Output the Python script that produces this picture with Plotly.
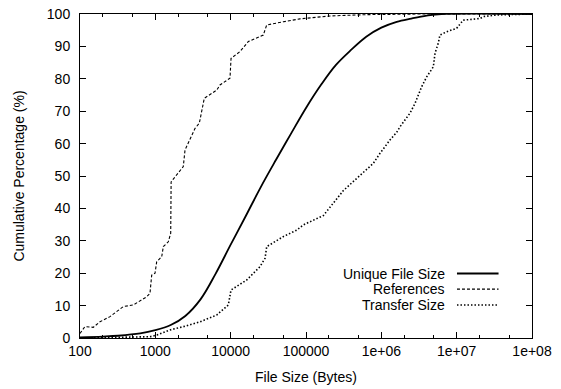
import plotly.graph_objects as go

# ---- data ----
unique_x = [100, 200, 320, 630, 1000, 1600, 2500, 4000, 6300, 10000, 16000, 25000, 40000,
            63000, 100000, 160000, 250000, 400000, 630000, 1000000, 1600000, 2500000,
            4000000, 6300000, 100000000]
unique_y = [0.2, 0.45, 0.7, 1.4, 2.4, 4.0, 6.8, 12.0, 19.8, 28.8, 37.8, 46.5, 55,
            63, 71, 78.3, 84.3, 89, 93, 95.8, 97.6, 98.6, 99.5, 100, 100]

ref_x = [100, 116, 150, 184, 250, 376, 510, 767, 849, 895, 991, 1042, 1216, 1276, 1486,
         1600, 1620, 2350, 2477, 2884, 3365, 3837, 4130, 4467, 6531, 7211, 9795, 10116,
         13300, 17140, 27100, 30060, 50000, 83200, 209000, 630000, 3200000, 100000000]
ref_y = [1.4, 3.5, 3.3, 5.0, 6.6, 9.7, 10.2, 12.7, 13.8, 19.4, 20.0, 23.5, 25.1, 28.2, 29.7,
         32.3, 48.2, 52.9, 58.0, 61.6, 64.7, 66.3, 70.4, 74.0, 76.5, 78.1, 80.2, 86.3,
         88.4, 91.5, 93.5, 96.6, 97.6, 98.5, 99.4, 99.8, 100, 100]

xfer_x = [100, 316, 560, 850, 1050, 1570, 2350, 3920, 6530, 9310, 10100, 16300, 24500,
          28600, 30100, 50000, 75300, 92000, 170000, 313000, 783000, 960000, 1300000,
          1600000, 1770000, 2400000, 2800000, 3440000, 4000000, 4430000, 4900000, 5160000,
          5700000, 6000000, 7360000, 10000000, 12200000, 20400000, 22600000, 34000000,
          85000000, 100000000]
xfer_y = [0, 0.1, 0.2, 0.4, 0.9, 2.5, 3.5, 5.0, 7.1, 10.2, 14.8, 17.9, 22.0,
          24.6, 28.2, 31.3, 33.3, 34.9, 37.8, 45.5, 53.9, 57.0, 61.1,
          63.5, 65.2, 69.4, 72.4, 77.6, 80.6, 82.2, 83.7, 87.9,
          91.0, 93.5, 94.5, 95.6, 98.1, 98.6, 99.2, 99.7,
          99.9, 100]

x_tickvals = [100, 1000, 10000, 100000, 1000000, 10000000, 100000000]
x_ticktext = ["100", "1000", "10000", "100000", "1e+06", "1e+07", "1e+08"]
y_tickvals = [0, 10, 20, 30, 40, 50, 60, 70, 80, 90, 100]

series_names = ["Unique File Size", "References", "Transfer Size"]

FONT = "Liberation Sans, Arial, Helvetica, sans-serif"
FS = 14

dash_styles = ["solid", "3px,2px", "1.5px,2px"]
widths = [1.8, 1.1, 1.6]

fig = go.Figure()
fig.add_trace(go.Scatter(x=unique_x, y=unique_y, mode="lines", name=series_names[0],
                         line=dict(color="black", width=widths[0], dash=dash_styles[0],
                                   shape="spline", smoothing=1.0)))
fig.add_trace(go.Scatter(x=ref_x, y=ref_y, mode="lines", name=series_names[1],
                         line=dict(color="black", width=widths[1], dash=dash_styles[1])))
fig.add_trace(go.Scatter(x=xfer_x, y=xfer_y, mode="lines", name=series_names[2],
                         line=dict(color="black", width=widths[2], dash=dash_styles[2])))

minor_vals = [m * 10 ** k for k in range(2, 8) for m in (2, 5)]

fig.update_layout(
    width=561, height=389,
    margin=dict(l=80, r=29, t=14, b=51, autoexpand=False),
    paper_bgcolor="white", plot_bgcolor="white",
    showlegend=False,
    font=dict(family=FONT, size=FS, color="black"),
    xaxis=dict(
        type="log", range=[2, 8], automargin=False,
        tickvals=x_tickvals, ticktext=x_ticktext,
        ticks="inside", ticklen=6, tickwidth=1, tickcolor="black",
        showline=True, linecolor="black", linewidth=1, mirror="ticks",
        showgrid=False, zeroline=False,
        minor=dict(tickvals=minor_vals, ticks="inside", ticklen=3, tickcolor="black", showgrid=False),
        title=dict(text="File Size (Bytes)", standoff=14, font=dict(family=FONT, size=FS)),
        tickfont=dict(family=FONT, size=FS),
    ),
    yaxis=dict(
        range=[0, 100], tickvals=y_tickvals, automargin=False,
        ticks="inside", ticklen=6, tickwidth=1, tickcolor="black",
        showline=True, linecolor="black", linewidth=1, mirror="ticks",
        showgrid=False, zeroline=False,
        ticklabelstandoff=6,
        title=dict(text="Cumulative Percentage (%)", standoff=18, font=dict(family=FONT, size=FS)),
        tickfont=dict(family=FONT, size=FS),
    ),
)

# gnuplot-style key: right-aligned text with line samples on the right
key_y = [0.199, 0.151, 0.102]
for name, yk, dsh, w in zip(series_names, key_y, dash_styles, widths):
    fig.add_annotation(x=0.812, y=yk, xref="paper", yref="paper", text=name,
                       showarrow=False, xanchor="right", yanchor="middle",
                       font=dict(family=FONT, size=FS, color="black"))
    fig.add_shape(type="line", xref="paper", yref="paper", x0=0.834, x1=0.926, y0=yk, y1=yk,
                  line=dict(color="black", width=w, dash=dsh))

fig.write_html("out.html")
